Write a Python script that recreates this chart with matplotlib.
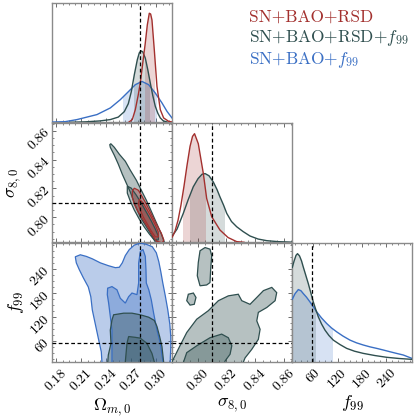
import matplotlib
matplotlib.use("Agg")
import numpy as np
from matplotlib import pyplot as plt
from matplotlib.path import Path
from matplotlib.ticker import AutoMinorLocator

plt.rcParams["font.family"] = "serif"
plt.rcParams["font.serif"] = ["cmr10", "DejaVu Serif"]
plt.rcParams["mathtext.fontset"] = "cm"
plt.rcParams["axes.unicode_minus"] = False

# chains (order: red, gray, blue)
names = ["SN+BAO+RSD", r"SN+BAO+RSD+$f_{99}$", r"SN+BAO+$f_{99}$"]
colors = ["#a3302e", "#2f4f4f", "#3a6fc4"]

# truth values
truth_om = 0.28
truth_s8 = 0.81
truth_f99 = 57

# axis ranges and ticks
om_lim = (0.1752, 0.3192)
s8_lim = (0.7825, 0.8656)
f99_lim = (8, 305)
om_ticks = [0.18, 0.21, 0.24, 0.27, 0.30]
om_ticklabels = ["0.18", "0.21", "0.24", "0.27", "0.30"]
s8_ticks = [0.80, 0.82, 0.84, 0.86]
s8_ticklabels = ["0.80", "0.82", "0.84", "0.86"]
f99_ticks = [60, 120, 180, 240]
f99_ticklabels = ["60", "120", "180", "240"]

# ---- 1D marginals (relative heights) ----
om_red_x = [0.2668, 0.2712, 0.2748, 0.2784, 0.2808, 0.2838, 0.2868, 0.2892, 0.2916, 0.2932,
            0.2948, 0.2976, 0.3008, 0.3048, 0.3088, 0.3148, 0.3192]
om_red_y = [0.0, 0.025, 0.116, 0.254, 0.364, 0.547, 0.730, 0.895, 1.003, 0.996,
            0.941, 0.666, 0.330, 0.116, 0.040, 0.009, 0.002]
om_gray_x = [0.1968, 0.2148, 0.2328, 0.2448, 0.2544, 0.2616, 0.2664, 0.2700, 0.2736, 0.2772,
             0.2796, 0.2816, 0.2838, 0.2868, 0.2898, 0.2928, 0.2958, 0.2988, 0.3018, 0.3048,
             0.3084, 0.3132]
om_gray_y = [0.0, 0.004, 0.013, 0.025, 0.048, 0.098, 0.171, 0.281, 0.437, 0.575,
             0.639, 0.657, 0.648, 0.590, 0.483, 0.361, 0.245, 0.147, 0.084, 0.040,
             0.013, 0.002]
om_blue_x = [0.1752, 0.1908, 0.2048, 0.2288, 0.2448, 0.2568, 0.2668, 0.2748, 0.2828, 0.2908,
             0.2988, 0.3068, 0.3128, 0.3188]
om_blue_y = [0.002, 0.006, 0.025, 0.071, 0.132, 0.208, 0.284, 0.346, 0.376, 0.346,
             0.269, 0.178, 0.101, 0.040]
om_red_ci = (0.286, 0.298)
om_gray_ci = (0.273, 0.292)
om_blue_ci = (0.260, 0.301)

s8_red_x = [0.7825, 0.7844, 0.7865, 0.7885, 0.7906, 0.7927, 0.7948, 0.7965, 0.7979, 0.8005,
            0.8040, 0.8063, 0.8098, 0.8155, 0.8211, 0.8271, 0.8322]
s8_red_y = [0.049, 0.104, 0.204, 0.342, 0.516, 0.708, 0.883, 0.974, 0.999, 0.907,
            0.632, 0.403, 0.235, 0.113, 0.044, 0.006, 0.0]
s8_gray_x = [0.7825, 0.7858, 0.7901, 0.7934, 0.7970, 0.8003, 0.8031, 0.8052, 0.8079, 0.8109,
             0.8135, 0.8155, 0.8180, 0.8202, 0.8235, 0.8271, 0.8315, 0.8363, 0.8419, 0.8479,
             0.8557, 0.8654]
s8_gray_y = [0.058, 0.122, 0.266, 0.388, 0.510, 0.585, 0.626, 0.632, 0.612, 0.555,
             0.484, 0.418, 0.342, 0.266, 0.191, 0.143, 0.099, 0.058, 0.030, 0.015,
             0.006, 0.001]
s8_red_ci = (0.7901, 0.8056)
s8_gray_ci = (0.7948, 0.8190)

f99_gray_x = [8.0, 12.2, 17.2, 20.9, 25.8, 30.8, 35.2, 41.4, 47.6, 53.8, 60.0, 66.2, 72.4,
              80.3, 88.9, 98.8, 109.5, 126.1, 142.6, 162.0, 183.7, 212.7, 241.6, 272.1, 304.3]
f99_gray_y = [0.873, 0.929, 0.984, 0.999, 0.979, 0.933, 0.876, 0.800, 0.724, 0.640, 0.555,
              0.484, 0.418, 0.353, 0.296, 0.246, 0.204, 0.163, 0.128, 0.102, 0.082, 0.062,
              0.046, 0.035, 0.027]
f99_blue_x = [8.0, 14.7, 22.9, 29.5, 35.2, 43.1, 51.8, 60.0, 68.4, 80.3, 93.1, 105.0, 117.9,
              133.5, 150.8, 166.9, 183.7, 200.3, 216.9, 233.2, 249.8, 265.9, 282.7, 303.5]
f99_blue_y = [0.580, 0.631, 0.669, 0.658, 0.632, 0.599, 0.555, 0.511, 0.464, 0.408, 0.357,
              0.316, 0.280, 0.241, 0.204, 0.179, 0.159, 0.142, 0.128, 0.113, 0.097, 0.082,
              0.067, 0.037]
f99_gray_ci = (9.0, 66.0)
f99_blue_ci = (9.0, 109.5)

# ---- 2D contours (outer = 95%, inner = 68%) ----
# Omega_m vs sigma_8
oms8_gray_outer = [([0.2454, 0.2496, 0.2556, 0.2628, 0.2688, 0.2760, 0.2820, 0.2880, 0.2928, 0.2976,
                     0.3024, 0.3060, 0.3096, 0.3108, 0.3024, 0.2976, 0.2928, 0.2868, 0.2808, 0.2760,
                     0.2724, 0.2688, 0.2640, 0.2592, 0.2544, 0.2496, 0.2448, 0.2442],
                    [0.8510, 0.8485, 0.8437, 0.8388, 0.8326, 0.8257, 0.8187, 0.8118, 0.8056, 0.7993,
                     0.7931, 0.7883, 0.7827, 0.7785, 0.7785, 0.7841, 0.7889, 0.7945, 0.8000, 0.8063,
                     0.8118, 0.8174, 0.8236, 0.8298, 0.8368, 0.8430, 0.8485, 0.8503])]
oms8_gray_inner = [([0.2652, 0.2700, 0.2760, 0.2820, 0.2880, 0.2940, 0.2988, 0.3024, 0.3024, 0.2976,
                     0.2916, 0.2856, 0.2796, 0.2736, 0.2688, 0.2652],
                    [0.8215, 0.8201, 0.8153, 0.8097, 0.8035, 0.7973, 0.7917, 0.7869, 0.7841, 0.7841,
                     0.7883, 0.7931, 0.7986, 0.8049, 0.8111, 0.8167])]
oms8_red_outer = [([0.2736, 0.2784, 0.2820, 0.2868, 0.2916, 0.2964, 0.3012, 0.3060, 0.3090, 0.3072,
                    0.3000, 0.2952, 0.2904, 0.2844, 0.2784, 0.2736, 0.2712, 0.2712],
                   [0.8201, 0.8187, 0.8153, 0.8104, 0.8049, 0.7993, 0.7938, 0.7889, 0.7841, 0.7820,
                    0.7834, 0.7876, 0.7924, 0.7980, 0.8035, 0.8090, 0.8139, 0.8180])]
oms8_red_inner = [([0.2796, 0.2844, 0.2892, 0.2940, 0.2988, 0.3024, 0.3024, 0.2988, 0.2940, 0.2892,
                    0.2844, 0.2808, 0.2784],
                   [0.8125, 0.8097, 0.8049, 0.8000, 0.7945, 0.7896, 0.7862, 0.7862, 0.7903, 0.7952,
                    0.8000, 0.8049, 0.8090])]

# Omega_m vs f99
omf_blue_outer = [([0.2028, 0.2088, 0.2160, 0.2232, 0.2328, 0.2424, 0.2508, 0.2556, 0.2592, 0.2628,
                    0.2676, 0.2736, 0.2808, 0.2880, 0.2952, 0.3000, 0.3030, 0.3054, 0.3078, 0.3108,
                    0.3138, 0.3162, 0.3174, 0.3174, 0.3168, 0.3168, 0.2352, 0.2340, 0.2304, 0.2268,
                    0.2232, 0.2214, 0.2184, 0.2124, 0.2076, 0.2040],
                   [270, 275, 271, 265, 255, 248, 243, 244, 255, 273,
                    288, 299, 304, 301, 295, 280, 258, 233, 205, 173,
                    138, 103, 71, 44, 19, -6, -6, 34, 68, 103,
                    138, 171, 195, 218, 238, 255])]
omf_blue_inner = [([0.2416, 0.2468, 0.2528, 0.2568, 0.2628, 0.2668, 0.2708, 0.2768, 0.2788, 0.2788,
                    0.2808, 0.2840, 0.2868, 0.2876, 0.2880, 0.2910, 0.2940, 0.2968, 0.3008, 0.3048,
                    0.3080, 0.3080, 0.2468, 0.2468, 0.2448, 0.2428, 0.2412],
                   [192, 196, 188, 167, 155, 171, 180, 176, 205, 254,
                    283, 288, 271, 238, 205, 188, 163, 130, 88, 55,
                    9, -6, -6, 88, 122, 155, 176])]
omf_gray_outer = [([0.2488, 0.2608, 0.2708, 0.2808, 0.2908, 0.2976, 0.3008, 0.3040, 0.3068, 0.3088,
                    0.3088, 0.2412, 0.2424, 0.2456, 0.2448, 0.2468],
                   [126, 130, 130, 126, 120, 112, 97, 72, 47, 9,
                    -6, -6, 26, 55, 88, 113])]
omf_gray_inner = [([0.2668, 0.2748, 0.2808, 0.2888, 0.2948, 0.2976, 0.2976, 0.2628, 0.2628, 0.2648],
                   [72, 70, 68, 55, 30, 9, -6, -6, 9, 55])]

# sigma_8 vs f99 (only the chain with both parameters)
s8f_gray_outer = [([0.8017, 0.8052, 0.8086, 0.8098, 0.8091, 0.8086, 0.8063, 0.8017, 0.7998, 0.8005],
                   [285, 293, 289, 273, 240, 206, 200, 198, 223, 256]),
                  ([0.7936, 0.7971, 0.7989, 0.7977, 0.7948, 0.7925],
                   [177, 180, 169, 152, 150, 161]),
                  ([0.7809, 0.7832, 0.7878, 0.7925, 0.7994, 0.8074, 0.8144, 0.8213, 0.8282, 0.8306,
                    0.8363, 0.8410, 0.8456, 0.8514, 0.8548, 0.8537, 0.8479, 0.8421, 0.8410, 0.8433,
                    0.8421, 0.8375, 0.8329, 0.8306],
                   [-1, 16, 49, 82, 115, 136, 161, 173, 177, 161,
                    152, 169, 186, 194, 181, 161, 144, 132, 111, 90,
                    65, 40, 19, -1])]
s8f_gray_inner = [([0.7901, 0.7925, 0.7994, 0.8086, 0.8167, 0.8213, 0.8237, 0.8225, 0.8190, 0.8183,
                    0.7892],
                   [7, 32, 49, 69, 78, 69, 49, 28, 11, 0, 0])]


def style_axes(ax, xlim, ylim):
    ax.set_xlim(*xlim)
    ax.set_ylim(*ylim)
    ax.xaxis.set_minor_locator(AutoMinorLocator())
    ax.yaxis.set_minor_locator(AutoMinorLocator())
    ax.tick_params(which="both", direction="in", top=True, right=True, colors="#555555",
                   labelcolor="black", labelsize=10)
    ax.tick_params(which="major", length=3, width=0.6)
    ax.tick_params(which="minor", length=1.6, width=0.5)
    for sp in ax.spines.values():
        sp.set_color("#8a8a8a")
        sp.set_linewidth(1.0)


def set_yticklabels(ax, labels):
    # right end of the rotated label sits at the tick
    ax.set_yticklabels(labels, rotation=45, rotation_mode="anchor", ha="right", va="center")


def draw_1d(ax, x, y, ci, color):
    ax.plot(x, y, color=color, lw=1.0, zorder=3)
    verts = np.column_stack([np.r_[x[0], x, x[-1]], np.r_[0, y, 0]])
    span = ax.axvspan(ci[0], ci[1], color=color, alpha=0.2, lw=0, zorder=2)
    span.set_clip_path(Path(verts), ax.transData)


def draw_2d(ax, outer, inner, color):
    for px, py in outer:
        ax.fill(px, py, color=color, alpha=0.35, lw=0, zorder=2)
        ax.fill(px, py, fill=False, edgecolor=color, lw=0.9, zorder=4)
    for px, py in inner:
        ax.fill(px, py, color=color, alpha=0.35, lw=0, zorder=2)
        ax.fill(px, py, fill=False, edgecolor=color, lw=0.9, zorder=4)


def truth(ax, xv=None, yv=None):
    if xv is not None:
        ax.axvline(xv, color="black", lw=0.9, ls=(0, (3, 2)), zorder=5)
    if yv is not None:
        ax.axhline(yv, color="black", lw=0.9, ls=(0, (3, 2)), zorder=5)


fig = plt.figure(figsize=(4.15, 4.17), dpi=100)
W, H = 415.0, 417.0
col_left = [52.3, 172.3, 292.3]
row_top = [2.7, 122.7, 242.7]
size_w, size_h = 120.0, 119.6


def make_ax(r, c):
    return fig.add_axes([col_left[c] / W, (H - row_top[r] - size_h) / H, size_w / W, size_h / H])


red, gray, blue = colors

# 1D: Omega_m
ax = make_ax(0, 0)
style_axes(ax, om_lim, (0, 1.1))
draw_1d(ax, om_blue_x, om_blue_y, om_blue_ci, blue)
draw_1d(ax, om_gray_x, om_gray_y, om_gray_ci, gray)
draw_1d(ax, om_red_x, om_red_y, om_red_ci, red)
truth(ax, truth_om)
ax.set_xticks(om_ticks)
ax.set_xticklabels([])
ax.set_yticks([])
ax.yaxis.set_minor_locator(plt.NullLocator())

# 2D: Omega_m vs sigma_8
ax = make_ax(1, 0)
style_axes(ax, om_lim, s8_lim)
draw_2d(ax, oms8_gray_outer, oms8_gray_inner, gray)
draw_2d(ax, oms8_red_outer, oms8_red_inner, red)
truth(ax, truth_om, truth_s8)
ax.set_xticks(om_ticks)
ax.set_xticklabels([])
ax.set_yticks(s8_ticks)
set_yticklabels(ax, s8_ticklabels)
ax.set_ylabel(r"$\sigma_{8,0}$", fontsize=13, labelpad=2)

# 1D: sigma_8
ax = make_ax(1, 1)
style_axes(ax, s8_lim, (0, 1.1))
draw_1d(ax, s8_gray_x, s8_gray_y, s8_gray_ci, gray)
draw_1d(ax, s8_red_x, s8_red_y, s8_red_ci, red)
truth(ax, truth_s8)
ax.set_xticks(s8_ticks)
ax.set_xticklabels([])
ax.set_yticks([])
ax.yaxis.set_minor_locator(plt.NullLocator())

# 2D: Omega_m vs f99
ax = make_ax(2, 0)
style_axes(ax, om_lim, f99_lim)
draw_2d(ax, omf_blue_outer, omf_blue_inner, blue)
draw_2d(ax, omf_gray_outer, omf_gray_inner, gray)
truth(ax, truth_om, truth_f99)
ax.set_xticks(om_ticks)
ax.set_xticklabels(om_ticklabels, rotation=45)
ax.set_yticks(f99_ticks)
set_yticklabels(ax, f99_ticklabels)
ax.set_xlabel(r"$\Omega_{m,0}$", fontsize=13, labelpad=2)
ax.set_ylabel(r"$f_{99}$", fontsize=13, labelpad=2)

# 2D: sigma_8 vs f99
ax = make_ax(2, 1)
style_axes(ax, s8_lim, f99_lim)
draw_2d(ax, s8f_gray_outer, s8f_gray_inner, gray)
truth(ax, truth_s8, truth_f99)
ax.set_xticks(s8_ticks)
ax.set_xticklabels(s8_ticklabels, rotation=45)
ax.set_yticks(f99_ticks)
ax.set_yticklabels([])
ax.set_xlabel(r"$\sigma_{8,0}$", fontsize=13, labelpad=2)

# 1D: f99
ax = make_ax(2, 2)
style_axes(ax, f99_lim, (0, 1.1))
draw_1d(ax, f99_blue_x, f99_blue_y, f99_blue_ci, blue)
draw_1d(ax, f99_gray_x, f99_gray_y, f99_gray_ci, gray)
truth(ax, truth_f99)
ax.set_xticks(f99_ticks)
ax.set_xticklabels(f99_ticklabels, rotation=45)
ax.set_yticks([])
ax.yaxis.set_minor_locator(plt.NullLocator())
ax.set_xlabel(r"$f_{99}$", fontsize=13, labelpad=2)

# legend as coloured text
for i, (name, col) in enumerate(zip(names, colors)):
    fig.text(249 / W, 1 - (17 + 21.5 * i) / H, name, color=col, fontsize=12.5,
             ha="left", va="center")

fig.savefig("out.png", dpi=100)
